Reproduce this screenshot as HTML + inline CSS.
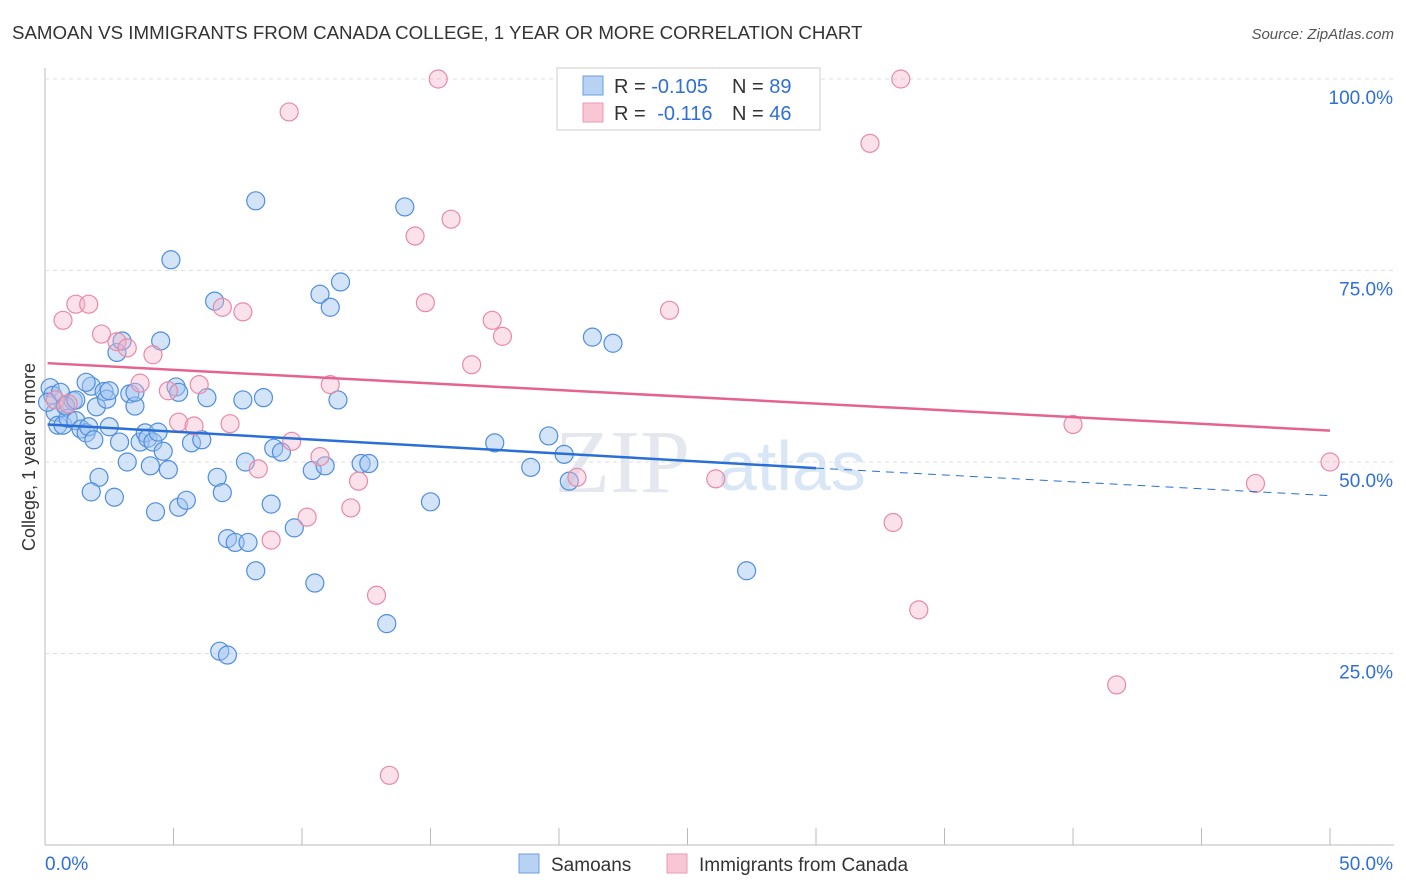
<!DOCTYPE html>
<html><head><meta charset="utf-8"><style>
body{margin:0;background:#fff;font-family:"Liberation Sans",sans-serif;}
svg{display:block}
</style></head><body>
<svg width="1406" height="892" id="c">
<text x="12" y="39" font-size="18.7" fill="#333">SAMOAN VS IMMIGRANTS FROM CANADA COLLEGE, 1 YEAR OR MORE CORRELATION CHART</text>
<text x="1394" y="39" font-size="15" fill="#555" font-style="italic" text-anchor="end">Source: ZipAtlas.com</text>
<text x="35" y="457" font-size="18" fill="#333" text-anchor="middle" transform="rotate(-90 35 457)">College, 1 year or more</text>
<text x="555" y="492" font-size="90" fill="#e4e8ee" font-family="Liberation Serif,serif">ZIP</text>
<text x="718" y="490" font-size="70" fill="#d8e6f6">atlas</text>
<g id="grid"></g><g id="pts"></g><g id="lines"></g>
<g>
<rect x="557" y="68" width="263" height="62" fill="#fff" stroke="#ccc"/>
<rect x="583" y="76" width="20" height="19" fill="#b8d2f4" stroke="#6d9fe0"/>
<rect x="583" y="103" width="20" height="19" fill="#f8c6d4" stroke="#eb9ab2"/>
<text x="614" y="93" font-size="20" fill="#333">R = <tspan fill="#2f6fd6">-0.105</tspan><tspan x="732">N = </tspan><tspan fill="#2f6fd6">89</tspan></text>
<text x="614" y="120" font-size="20" fill="#333">R = <tspan fill="#2f6fd6" dx="6">-0.116</tspan><tspan x="732">N = </tspan><tspan fill="#2f6fd6">46</tspan></text>
</g>
<g>
<rect x="519" y="854" width="20" height="19" fill="#b8d2f4" stroke="#6d9fe0"/>
<text x="551" y="871" font-size="19" fill="#333">Samoans</text>
<rect x="667" y="854" width="20" height="19" fill="#f8c6d4" stroke="#eb9ab2"/>
<text x="699" y="871" font-size="19" fill="#333">Immigrants from Canada</text>
</g>
</svg>
<script>
const yTicks=[100,75,50,25];
const xTickLabels=["0.0%","50.0%"];
const blueX=[0.2,0.3,0.4,0.5,0.7,0.8,0.9,1.1,1.2,1.4,1.6,1.7,1.8,1.9,2.0,2.1,1.8,2.3,2.4,2.5,2.7,2.8,3.0,2.9,3.2,3.3,3.5,3.5,3.7,3.9,4.0,4.1,4.2,4.3,4.4,4.5,4.6,4.8,4.9,5.1,5.2,5.2,5.5,5.7,6.1,6.3,6.6,6.7,6.9,7.1,7.4,7.9,7.7,7.8,8.2,8.2,8.5,8.8,8.9,9.2,9.7,10.4,10.5,10.7,10.9,11.1,11.4,11.5,12.3,12.6,13.3,14.0,15.0,17.5,18.9,19.6,20.2,20.4,21.3,22.1,27.3,6.8,7.1,0.6,0.1,0.8,1.2,2.5,1.6];
const blueY=[59.7,58.7,56.5,54.8,54.8,57.4,55.7,58.0,55.4,54.3,53.8,54.6,59.9,52.9,57.2,48.0,46.1,59.2,58.2,54.6,45.4,64.3,65.8,52.6,50.0,58.9,57.3,59.1,52.6,53.8,53.1,49.5,52.6,43.5,53.9,65.8,51.4,49.0,76.4,59.8,59.1,44.1,45.0,52.5,52.9,58.4,71.0,48.0,46.0,40.0,39.5,39.5,58.1,50.0,84.1,35.8,58.4,44.5,51.8,51.3,41.4,48.9,34.2,71.9,49.5,70.2,58.1,73.5,49.8,49.8,28.9,83.3,44.8,52.5,49.3,53.4,51.0,47.5,66.3,65.5,35.8,25.3,24.8,59.1,57.8,57.3,58.1,59.3,60.4];
const pinkX=[15.3,33.3,9.5,32.1,15.8,14.4,1.2,1.7,0.7,6.9,7.7,14.8,17.4,17.8,24.3,2.2,2.8,3.2,4.2,16.6,4.8,6.0,3.7,11.1,5.2,5.8,7.2,9.6,10.7,8.3,12.2,11.9,10.2,8.8,12.9,20.7,26.1,33.0,34.0,40.0,47.1,50.0,41.7,13.4,0.4,0.9];
const pinkY=[100,100,95.7,91.6,81.7,79.5,70.6,70.6,68.5,70.2,69.6,70.8,68.5,66.4,69.8,66.7,65.7,64.9,64.0,62.7,59.3,60.1,60.3,60.1,55.2,54.7,55.0,52.7,50.7,49.1,47.5,44.0,42.8,39.8,32.6,48.0,47.8,42.1,30.7,54.9,47.2,50.0,20.9,9.1,58.1,57.6];
const blueTrend=[[0.1,54.9],[30,49.2],[50,45.6]];
const pinkTrend=[[0.1,62.9],[50,54.1]];
const NS="http://www.w3.org/2000/svg";
const X=v=>45+v/50*1285, Y=v=>845-v/100*766;
function mk(t,a,p){const e=document.createElementNS(NS,t);for(const k in a)e.setAttribute(k,a[k]);p.appendChild(e);return e;}
const grid=document.getElementById('grid');
mk('line',{x1:45,y1:68,x2:45,y2:845,stroke:'#bbb'},grid);
mk('line',{x1:45,y1:845,x2:1394,y2:845,stroke:'#bbb'},grid);
for(let i=0;i<=10;i++){const l=mk('line',{x1:X(i*5),x2:X(i*5),y1:828,y2:845,stroke:'#bbb'},grid);

}
yTicks.forEach(v=>{const l=mk('line',{x1:45,x2:1394,y1:Y(v),y2:Y(v),stroke:'#ddd','stroke-dasharray':'4 4'},grid);


const t=mk('text',{x:1393,y:Y(v)+25,'font-size':19,fill:'#2f6fd6','text-anchor':'end'},grid);t.textContent=v.toFixed(1)+'%';

});
const t0=mk('text',{x:45,y:870,'font-size':19,fill:'#2f6fd6'},grid);t0.textContent=xTickLabels[0];


const t1=mk('text',{x:1393,y:870,'font-size':19,fill:'#2f6fd6','text-anchor':'end'},grid);t1.textContent=xTickLabels[1];


const pts=document.getElementById('pts');
blueX.forEach((x,i)=>{const c=mk('circle',{cx:X(x),cy:Y(blueY[i]),r:9,fill:'rgba(160,196,240,0.45)',stroke:'#4f8ede','stroke-width':1.2},pts);

});
pinkX.forEach((x,i)=>{const c=mk('circle',{cx:X(x),cy:Y(pinkY[i]),r:9,fill:'rgba(246,180,200,0.4)',stroke:'#e78aa8','stroke-width':1.2},pts);

});
const ln=document.getElementById('lines');
const b1=mk('line',{x1:X(blueTrend[0][0]),y1:Y(blueTrend[0][1]),x2:X(blueTrend[1][0]),y2:Y(blueTrend[1][1]),stroke:'#2a6fd6','stroke-width':2.5},ln);


const b2=mk('line',{x1:X(blueTrend[1][0]),y1:Y(blueTrend[1][1]),x2:X(blueTrend[2][0]),y2:Y(blueTrend[2][1]),stroke:'#2a6fd6','stroke-width':1,'stroke-dasharray':'8 6'},ln);


const p1=mk('line',{x1:X(pinkTrend[0][0]),y1:Y(pinkTrend[0][1]),x2:X(pinkTrend[1][0]),y2:Y(pinkTrend[1][1]),stroke:'#e4638f','stroke-width':2.5},ln);


</script>
</body></html>
